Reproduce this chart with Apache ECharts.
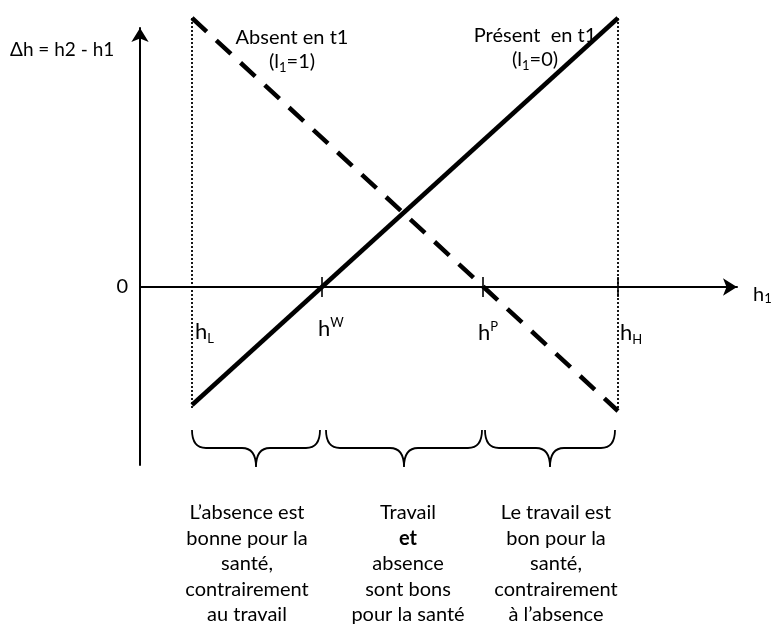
<!DOCTYPE html>
<html>
<head>
<meta charset="utf-8">
<script src="https://cdn.jsdelivr.net/npm/echarts@6/dist/echarts.min.js"></script>
<style>
  html, body { margin: 0; padding: 0; background: #fff; }
  #chart { width: 783px; height: 624px; }
</style>
</head>
<body>
<div id="chart"></div>
<script>
// h1 positions (abstract units)
const hL = 52
const hW = 182
const hP = 343
const hH = 478

// delta h at both ends for each regime
const presentLine = [[hL, -118], [hH, 269]]
const absentLine = [[hL, 269], [hH, -124]]
const leftBound = [[hL, 269], [hL, -121]]
const rightBound = [[hH, 269], [hH, -121]]
const tickMarks = [[hW, 0], [hP, 0], [hH, 0]]
const thresholds = [[hL, 0], [hW, 0], [hP, 0], [hH, 0]]
const thresholdNames = ['{h|h}{sub|L}', '{h|h}{sup|W}', '{h|h}{sup|P}', '{h|h}{sub|H}']

// brace ranges on h1
const braces = [[hL, 180], [186, 342], [345, 475]]
const braceTexts = [
  "L\u2019absence est\nbonne pour la\nsant\u00e9,\ncontrairement\nau travail",
  "Travail\n{b|et}\nabsence\nsont bons\npour la sant\u00e9",
  "Le travail est\nbon pour la\nsant\u00e9,\ncontrairement\n\u00e0 l\u2019absence"
]
const braceTextX = [247, 408, 556]

const FONT = 'Lato, "Noto Sans", sans-serif'
const chart = echarts.init(document.getElementById('chart'), null, { renderer: 'canvas' })

const labelOffsets = [[3, 32], [-4, 29], [-5, 33], [2, 33]]
const richLabel = {
  h: { fontSize: 22, fontFamily: FONT, color: '#000', lineHeight: 26, opacity: 1 },
  sub: { fontSize: 13, fontFamily: FONT, color: '#000', verticalAlign: 'bottom', lineHeight: 14, padding: [11, 0, 0, 0] },
  sup: { fontSize: 13, fontFamily: FONT, color: '#000', verticalAlign: 'top', lineHeight: 14, padding: [0, 0, 11, 0] }
}

const option = {
  animation: false,
  backgroundColor: '#fff',
  textStyle: { fontFamily: FONT, color: '#000' },
  grid: { left: 140, right: 46, top: 28, bottom: 159 },
  xAxis: {
    type: 'value', min: 0, max: 597,
    splitLine: { show: false },
    axisTick: { show: false },
    axisLabel: { show: false },
    axisLine: {
      onZero: true,
      symbol: ['none', 'arrow'], symbolSize: [13, 14], symbolOffset: [0, 0],
      lineStyle: { color: '#000', width: 2 }
    },
    name: '{h|h}{sub|1}',
    nameLocation: 'end', nameGap: 16,
    nameTextStyle: {
      rich: {
        h: { fontSize: 20, fontFamily: FONT, color: '#000', padding: [16, 0, 0, 0] },
        sub: { fontSize: 13, fontFamily: FONT, color: '#000', verticalAlign: 'bottom', padding: [22, 0, 0, 0] }
      }
    }
  },
  yAxis: {
    type: 'value', min: -178, max: 259,
    splitLine: { show: false },
    axisTick: { show: false },
    axisLine: {
      symbol: ['none', 'arrow'], symbolSize: [13, 14], symbolOffset: [0, 0],
      lineStyle: { color: '#000', width: 2 }
    },
    axisLabel: {
      customValues: [0],
      fontSize: 20, fontFamily: FONT, color: '#000', margin: 12
    }
  },
  series: [
    {
      name: 'Pr\u00e9sent en t1', type: 'line', data: presentLine, clip: false,
      showSymbol: false, lineStyle: { color: '#000', width: 4.5 }
    },
    {
      name: 'Absent en t1', type: 'line', data: absentLine, clip: false,
      showSymbol: false, lineStyle: { color: '#000', width: 4.5, type: [20, 13] }
    },
    {
      type: 'line', data: leftBound, clip: false, showSymbol: false, z: 1,
      lineStyle: { color: '#000', width: 1.8, type: [2, 2] }
    },
    {
      type: 'line', data: rightBound, clip: false, showSymbol: false, z: 1,
      lineStyle: { color: '#000', width: 1.8, type: [2, 2] }
    },
    {
      type: 'scatter', data: tickMarks, symbol: 'rect', symbolSize: [2, 20],
      itemStyle: { color: '#000' }, z: 3
    },
    {
      type: 'scatter', symbolSize: 0, z: 4, itemStyle: { opacity: 1 },
      data: thresholds.map((p, i) => ({
        value: p,
        label: {
          show: true, formatter: thresholdNames[i], position: labelOffsets[i],
          align: 'left', verticalAlign: 'top', color: '#000', textBorderWidth: 0, rich: richLabel
        }
      }))
    },
    {
      type: 'custom', data: braces, clip: false,
      renderItem: (params, api) => {
        const a = api.coord([api.value(0), 0])[0]
        const b = api.coord([api.value(1), 0])[0]
        const m = (a + b) / 2
        const yTop = 430, yMid = 448, yBot = 467, r = 14
        const d = `M${a},${yTop} Q${a},${yMid} ${a + r},${yMid} L${m - r},${yMid} Q${m},${yMid} ${m},${yBot}` +
          ` Q${m},${yMid} ${m + r},${yMid} L${b - r},${yMid} Q${b},${yMid} ${b},${yTop}`
        return {
          type: 'path',
          shape: { pathData: d },
          style: { fill: 'none', stroke: '#000', lineWidth: 1.8 }
        }
      }
    }
  ],
  graphic: [
    { type: 'text', left: 10, top: 40, style: { text: '\u0394h = h2 - h1', font: `19px ${FONT}`, fill: '#000' } },
    {
      type: 'text', x: 292, y: 26,
      style: {
        text: 'Absent en t1\n(l{s|1}=1)', font: `20px ${FONT}`, fill: '#000',
        align: 'center', lineHeight: 24,
        rich: { s: { fontSize: 13, fontFamily: FONT, verticalAlign: 'bottom', padding: [6, 0, 0, 0] } }
      }
    },
    {
      type: 'text', x: 535, y: 24,
      style: {
        text: 'Pr\u00e9sent  en t1\n(l{s|1}=0)', font: `20px ${FONT}`, fill: '#000',
        align: 'center', lineHeight: 24,
        rich: { s: { fontSize: 13, fontFamily: FONT, verticalAlign: 'bottom', padding: [6, 0, 0, 0] } }
      }
    },
    ...braceTexts.map((t, i) => ({
      type: 'text', x: braceTextX[i], y: 500,
      style: {
        text: t, font: `20px ${FONT}`, fill: '#000', align: 'center', lineHeight: 25.5,
        rich: { b: { fontWeight: 'bold', fontSize: 20, fontFamily: FONT, lineHeight: 25.5 } }
      }
    }))
  ]
}

chart.setOption(option)
window.addEventListener('resize', () => chart.resize())
</script>
</body>
</html>
